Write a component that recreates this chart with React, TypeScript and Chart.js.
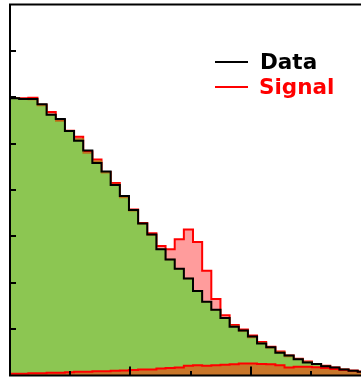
import React, { useEffect, useRef } from "react";
import { Chart, registerables } from "chart.js";

Chart.register(...registerables);

// ---- data (one value per histogram bin) ----
const BIN_WIDTH = 0.076;

const dataCounts = [
  5.98, 5.96, 5.96, 5.85, 5.62, 5.53, 5.27, 5.06, 4.85, 4.58,
  4.40, 4.11, 3.87, 3.57, 3.28, 3.04, 2.72, 2.50, 2.30, 2.09,
  1.82, 1.59, 1.42, 1.24, 1.05, 0.97, 0.84, 0.69, 0.61, 0.49,
  0.43, 0.35, 0.28, 0.25, 0.20, 0.17, 0.13, 0.10, 0.08, 0.06,
];

const otherBkg = [
  0.04, 0.04, 0.05, 0.05, 0.06, 0.06, 0.07, 0.08, 0.08, 0.09,
  0.09, 0.10, 0.11, 0.12, 0.13, 0.13, 0.15, 0.16, 0.17, 0.21,
  0.22, 0.21, 0.22, 0.23, 0.24, 0.26, 0.26, 0.25, 0.24, 0.22,
  0.17, 0.19, 0.19, 0.18, 0.16, 0.14, 0.12, 0.10, 0.08, 0.07,
];

const mainBkg = [
  5.94, 5.93, 5.90, 5.77, 5.57, 5.43, 5.20, 5.02, 4.72, 4.53,
  4.28, 4.02, 3.73, 3.43, 3.14, 2.90, 2.57, 2.34, 2.13, 1.88,
  1.60, 1.38, 1.20, 1.01, 0.82, 0.70, 0.56, 0.45, 0.36, 0.28,
  0.24, 0.16, 0.10, 0.06, 0.04, 0.02, 0.01, 0.00, 0.00, 0.00,
];

const signal = [
  0.00, 0.01, 0.04, 0.02, 0.05, 0.02, 0.01, 0.05, 0.03, 0.04,
  0.02, 0.03, 0.02, 0.03, 0.02, 0.04, 0.07, 0.22, 0.64, 1.06,
  1.06, 0.67, 0.23, 0.06, 0.03, 0.03, 0.04, 0.02, 0.02, 0.02,
  0.02, 0.01, 0.01, 0.01, 0.01, 0.01, 0.00, 0.00, 0.00, 0.00,
];

const xMajorTicks = [0, 1, 2, 3];
const xMinorTicks = [0.5, 1.5, 2.5];
const yTicks = [1, 2, 3, 4, 5, 6, 7];
const legendLabels = ["Data", "Signal"];

function toSteps(values: number[]) {
  const pts = values.map((v, i) => ({ x: i * BIN_WIDTH, y: v }));
  pts.push({ x: values.length * BIN_WIDTH, y: values[values.length - 1] });
  return pts;
}

const framePlugin = {
  id: "rootFrame",
  afterDatasetsDraw(chart: any) {
    const { ctx, chartArea: a, scales } = chart;
    const xs = scales.x;
    const ys = scales.y;
    ctx.save();
    ctx.strokeStyle = "#000";
    ctx.lineWidth = 2;
    ctx.beginPath();
    ctx.moveTo(a.left, a.bottom);
    ctx.lineTo(a.left, a.top);
    ctx.lineTo(a.right, a.top);
    ctx.lineTo(a.right, a.bottom);
    ctx.closePath();
    ctx.stroke();
    ctx.beginPath();
    yTicks.forEach((v) => {
      const py = Math.round(ys.getPixelForValue(v));
      ctx.moveTo(a.left, py);
      ctx.lineTo(a.left + 6, py);
    });
    xMajorTicks.forEach((v) => {
      const px = Math.round(xs.getPixelForValue(v));
      ctx.moveTo(px, a.bottom);
      ctx.lineTo(px, a.bottom - 9);
    });
    xMinorTicks.forEach((v) => {
      const px = Math.round(xs.getPixelForValue(v));
      ctx.moveTo(px, a.bottom);
      ctx.lineTo(px, a.bottom - 4.5);
    });
    ctx.stroke();
    ctx.restore();
  },
};

export default function App() {
  const canvasRef = useRef<HTMLCanvasElement | null>(null);

  useEffect(() => {
    if (!canvasRef.current) return;
    const orangeTop = otherBkg.slice();
    const greenTop = otherBkg.map((v, i) => v + mainBkg[i]);
    const totalTop = greenTop.map((v, i) => v + signal[i]);

    const chart = new Chart(canvasRef.current, {
      type: "line",
      data: {
        datasets: [
          {
            label: legendLabels[0],
            data: toSteps(dataCounts),
            stepped: true,
            borderColor: "#000000",
            borderWidth: 2,
            fill: false,
            pointRadius: 0,
            order: 0,
          },
          {
            label: "Other background",
            data: toSteps(orangeTop),
            stepped: true,
            borderColor: "#ff0000",
            borderWidth: 2,
            backgroundColor: "#c8762a",
            fill: "origin",
            pointRadius: 0,
            order: 1,
          },
          {
            label: "Main background",
            data: toSteps(greenTop),
            stepped: true,
            borderColor: "#b87418",
            borderWidth: 1.5,
            backgroundColor: "#8cc652",
            fill: 1,
            pointRadius: 0,
            order: 2,
          },
          {
            label: legendLabels[1],
            data: toSteps(totalTop),
            stepped: true,
            borderColor: "#ff0000",
            borderWidth: 2,
            backgroundColor: "#ff9c9c",
            fill: 2,
            pointRadius: 0,
            order: 3,
          },
        ],
      },
      options: {
        responsive: false,
        maintainAspectRatio: false,
        animation: false,
        devicePixelRatio: 1,
        layout: { padding: { left: 10, top: 4.5, right: 8.6, bottom: 15.5 } },
        plugins: {
          legend: { display: false },
          tooltip: { enabled: false },
        },
        scales: {
          x: { type: "linear", min: 0, max: 3.5, display: false },
          y: { type: "linear", min: 0, max: 8, display: false },
        },
      },
      plugins: [framePlugin],
    });
    return () => chart.destroy();
  }, []);

  const textStyle: React.CSSProperties = {
    position: "absolute",
    fontFamily: "'DejaVu Sans', sans-serif",
    fontWeight: "bold",
    fontSize: "21.5px",
    lineHeight: "21.5px",
    whiteSpace: "nowrap",
  };

  return (
    <div
      style={{
        position: "fixed",
        left: 0,
        top: 0,
        width: 361,
        height: 391,
        overflow: "hidden",
        background: "#ffffff",
      }}
    >
      <canvas
        ref={canvasRef}
        width={440}
        height={391}
        style={{ position: "absolute", left: 0, top: 0, width: 440, height: 391 }}
      />
      <div style={{ position: "absolute", left: 215, top: 60.7, width: 33, height: 2, background: "#000" }} />
      <div style={{ ...textStyle, left: 260, top: 50.8, color: "#000" }}>{legendLabels[0]}</div>
      <div style={{ position: "absolute", left: 215, top: 86.3, width: 33, height: 2, background: "#ff0000" }} />
      <div style={{ ...textStyle, left: 259, top: 76.3, color: "#ff0000" }}>{legendLabels[1]}</div>
    </div>
  );
}
